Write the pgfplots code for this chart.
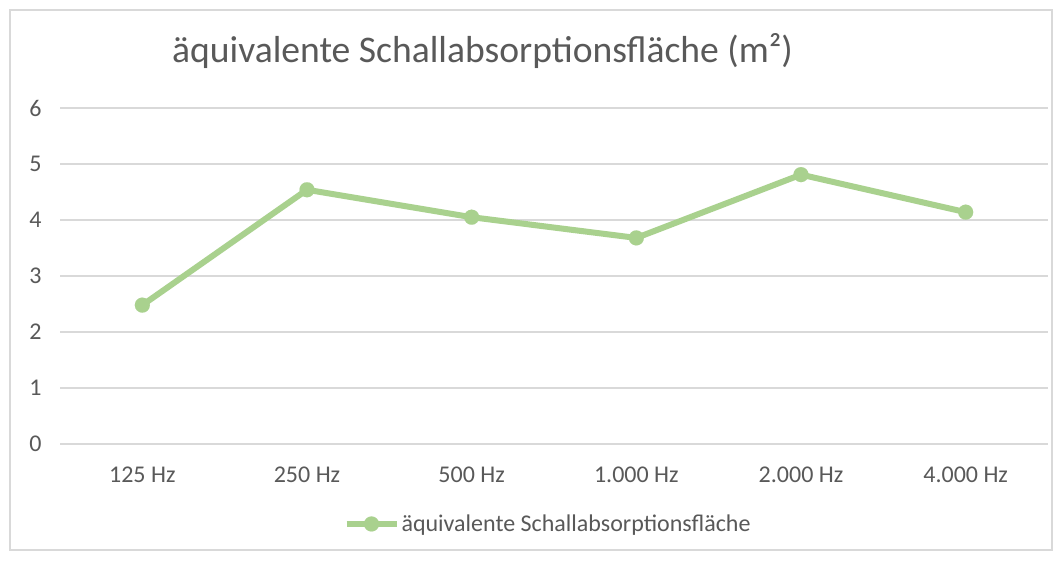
\documentclass[border=0pt]{standalone}
\usepackage{fontspec}
\setmainfont{Carlito}
\usepackage{pgfplots}
\pgfplotsset{compat=1.18}
\definecolor{linegreen}{HTML}{A9D18E}
\definecolor{gridgray}{HTML}{D9D9D9}
\definecolor{txt}{HTML}{595959}

\begin{document}
\begin{tikzpicture}[x=1pt,y=1pt]
\useasboundingbox (0,0) rectangle (1062,560);
\fill[white] (0,0) rectangle (1062,560);
\draw[gridgray, line width=1.5pt] (10,10) rectangle (1052,550);
\node[anchor=west, text=txt, font=\fontsize{37.6}{44}\selectfont, inner sep=0pt] at (172,509) {äquivalente Schallabsorptionsfläche (m²)};
\begin{axis}[
 at={(60pt,116pt)}, anchor=south west,
 scale only axis, width=988pt, height=336pt,
 xmin=-0.5, xmax=5.5, ymin=0, ymax=6,
 xtick={0,...,5}, xticklabels={125 Hz, 250 Hz, 500 Hz, 1.000 Hz, 2.000 Hz, 4.000 Hz},
 ytick={0,...,6},
 axis line style={draw=none},
 major tick length=0pt,
 ymajorgrids, grid style={gridgray, line width=1.5pt},
 tick label style={text=txt, font=\fontsize{24}{28}\selectfont},
 yticklabel style={xshift=-15pt},
 xticklabel style={yshift=-19pt},
 /pgf/number format/assume math mode=true,
 legend style={at={(0.494,-0.238)}, anchor=center, draw=none, fill=none, font=\fontsize{24}{28}\selectfont, text=txt, legend cell align=left},
 legend image code/.code={\draw[mark repeat=2,mark phase=2,#1] plot coordinates {(0pt,0pt) (25pt,0pt) (50pt,0pt)};},
 clip=false,
]
\addplot[linegreen, line width=6pt, line join=round, mark=*, mark size=7.5pt, mark options={fill=linegreen, draw=linegreen, line width=0.1pt}] coordinates {(0,2.48)(1,4.54)(2,4.05)(3,3.68)(4,4.81)(5,4.14)};
\legend{äquivalente Schallabsorptionsfläche}
\end{axis}
\end{tikzpicture}
\end{document}
